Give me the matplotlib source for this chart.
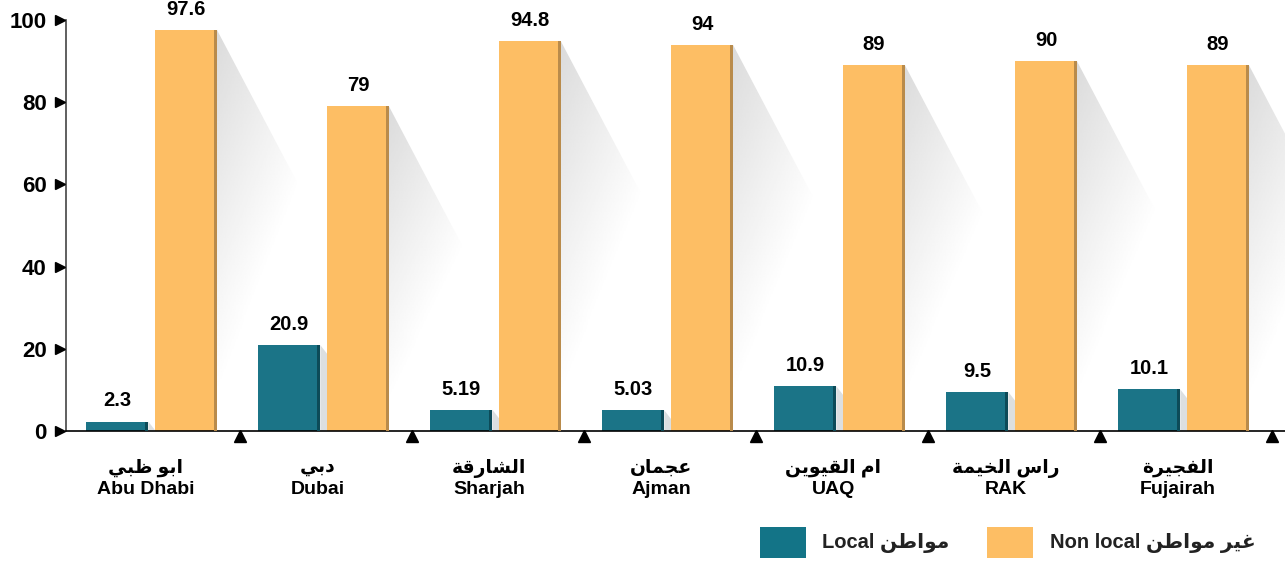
import matplotlib
matplotlib.use('Agg')
import matplotlib.pyplot as plt
import numpy as np
from matplotlib.patches import Polygon, Rectangle

# data
cities_ar = ['ابو ظبي', 'دبي', 'الشارقة', 'عجمان', 'ام القيوين', 'راس الخيمة', 'الفجيرة']
cities_en = ['Abu Dhabi', 'Dubai', 'Sharjah', 'Ajman', 'UAQ', 'RAK', 'Fujairah']
local = [2.3, 20.9, 5.19, 5.03, 10.9, 9.5, 10.1]
non_local = [97.6, 79, 94.8, 94, 89, 90, 89]
local_lbl = ['2.3', '20.9', '5.19', '5.03', '10.9', '9.5', '10.1']
non_local_lbl = ['97.6', '79', '94.8', '94', '89', '90', '89']
legend_ar = ['مواطن', 'غير مواطن']
legend_en = ['Local', 'Non local']

TEAL = '#1b7487'
TEAL_EDGE = '#0d4b58'
ORANGE = '#fdbe64'
ORANGE_EDGE = '#b98b4b'
FONT = ['Liberation Sans', 'DejaVu Sans']

# arabic presentation forms: isolated, final, initial, medial
FORMS = {
    'ا': (0xFE8D, 0xFE8E, None, None),
    'ب': (0xFE8F, 0xFE90, 0xFE91, 0xFE92),
    'ة': (0xFE93, 0xFE94, None, None),
    'ج': (0xFE9D, 0xFE9E, 0xFE9F, 0xFEA0),
    'خ': (0xFEA5, 0xFEA6, 0xFEA7, 0xFEA8),
    'د': (0xFEA9, 0xFEAA, None, None),
    'ر': (0xFEAD, 0xFEAE, None, None),
    'س': (0xFEB1, 0xFEB2, 0xFEB3, 0xFEB4),
    'ش': (0xFEB5, 0xFEB6, 0xFEB7, 0xFEB8),
    'ط': (0xFEC1, 0xFEC2, 0xFEC3, 0xFEC4),
    'ظ': (0xFEC5, 0xFEC6, 0xFEC7, 0xFEC8),
    'ع': (0xFEC9, 0xFECA, 0xFECB, 0xFECC),
    'غ': (0xFECD, 0xFECE, 0xFECF, 0xFED0),
    'ف': (0xFED1, 0xFED2, 0xFED3, 0xFED4),
    'ق': (0xFED5, 0xFED6, 0xFED7, 0xFED8),
    'ل': (0xFEDD, 0xFEDE, 0xFEDF, 0xFEE0),
    'م': (0xFEE1, 0xFEE2, 0xFEE3, 0xFEE4),
    'ن': (0xFEE5, 0xFEE6, 0xFEE7, 0xFEE8),
    'و': (0xFEED, 0xFEEE, None, None),
    'ي': (0xFEF1, 0xFEF2, 0xFEF3, 0xFEF4),
}


def shape(txt):
    out = []
    for i, c in enumerate(txt):
        if c not in FORMS:
            out.append(c)
            continue
        prev = txt[i - 1] if i > 0 else ' '
        nxt = txt[i + 1] if i + 1 < len(txt) else ' '
        join_prev = prev in FORMS and FORMS[prev][2] is not None
        join_next = FORMS[c][2] is not None and nxt in FORMS
        f = FORMS[c]
        if join_prev and join_next:
            code = f[3]
        elif join_prev:
            code = f[1]
        elif join_next:
            code = f[2]
        else:
            code = f[0]
        out.append(chr(code))
    return ''.join(out)[::-1]


fig = plt.figure(figsize=(12.85, 5.62), dpi=100)
W, H = 1285, 562
ax = fig.add_axes([66 / W, 131 / H, 1219 / W, 411 / H])
unit = 172.0
x0 = -2 / unit
ax.set_xlim(x0, x0 + 1219 / unit)
ax.set_ylim(0, 100)

X = np.arange(len(local))
bw = 0.36
xl = X + 0.287
xn = X + 0.686
edge = 3 / unit


def grad_poly(verts, g0, g1, z):
    poly = Polygon(verts, closed=True, facecolor='none', edgecolor='none')
    ax.add_patch(poly)
    xs = [v[0] for v in verts]
    ys = [v[1] for v in verts]
    gx, gy = np.meshgrid(np.linspace(0, 1, 60), np.linspace(0, 1, 120))
    t = np.clip(0.55 * gx + 1.1 * gy, 0, 1)
    img = g0 + (g1 - g0) * t
    im = ax.imshow(img, cmap='gray', vmin=0, vmax=1, origin='upper',
                   extent=[min(xs), max(xs), min(ys), max(ys)],
                   aspect='auto', zorder=z, interpolation='bilinear')
    im.set_clip_path(poly)


# shadows
for i in range(len(X)):
    r = xn[i] + bw / 2
    top = non_local[i]
    grad_poly([(r, top), (r + 80 / unit, top - 37), (r, 0)], 0.86, 1.0, 1)
    r2 = xl[i] + bw / 2
    ax.add_patch(Polygon([(r2, local[i]), (r2 + 7 / unit, local[i] - 2.2),
                          (r2 + 7 / unit, 0), (r2, 0)],
                         closed=True, facecolor='#dcdfe0', edgecolor='none', zorder=1))
ax.set_xlim(x0, x0 + 1219 / unit)
ax.set_ylim(0, 100)

ax.bar(xl, local, width=bw, color=TEAL, zorder=2)
ax.bar(xl + bw / 2 - edge / 2, local, width=edge, color=TEAL_EDGE, zorder=3)
ax.bar(xn, non_local, width=bw, color=ORANGE, zorder=2)
ax.bar(xn + bw / 2 - edge / 2, non_local, width=edge, color=ORANGE_EDGE, zorder=3)

for i in range(len(X)):
    ax.annotate(local_lbl[i], (xl[i], local[i]), xytext=(0, 8), textcoords='offset points',
                ha='center', va='bottom', fontsize=14.5, fontweight='bold', family=FONT)
    ax.annotate(non_local_lbl[i], (xn[i], non_local[i]), xytext=(0, 8), textcoords='offset points',
                ha='center', va='bottom', fontsize=14.5, fontweight='bold', family=FONT)

# axes styling
for s in ['top', 'right']:
    ax.spines[s].set_visible(False)
ax.spines['left'].set_color('#444444')
ax.spines['bottom'].set_color('black')
ax.spines['left'].set_linewidth(1.2)
ax.spines['bottom'].set_linewidth(1.2)
ax.set_xticks([])
ax.set_yticks(np.arange(0, 101, 20))
ax.tick_params(axis='y', length=0, pad=14)
for lab in ax.get_yticklabels():
    lab.set_fontsize(16)
    lab.set_fontweight('bold')
    lab.set_family(FONT)

ytr = ax.get_yaxis_transform()
ax.plot([-6 / 1219] * 6, np.arange(0, 101, 20), linestyle='none', marker='>', markersize=7,
        color='black', transform=ytr, clip_on=False, zorder=5)
xtr = ax.get_xaxis_transform()
ax.plot(X + 1, [-5 / 411] * len(X), linestyle='none', marker='^', markersize=8,
        color='black', transform=xtr, clip_on=False, zorder=5)

for i in range(len(X)):
    ax.text(X[i] + 0.45, -37 / 411, shape(cities_ar[i]), transform=xtr, ha='center', va='center',
            fontsize=13.5, fontweight='bold', family=FONT)
    ax.text(X[i] + 0.45, -59 / 411, cities_en[i], transform=xtr, ha='center', va='center',
            fontsize=14, fontweight='bold', family=FONT)

# legend
fig.patches.append(Rectangle((760 / W, 4 / H), 46 / W, 31 / H, transform=fig.transFigure,
                             facecolor='#137487', edgecolor='none'))
fig.patches.append(Rectangle((987 / W, 4 / H), 46 / W, 31 / H, transform=fig.transFigure,
                             facecolor=ORANGE, edgecolor='none'))
fig.text(822 / W, 19 / H, legend_en[0] + ' ' + shape(legend_ar[0]), ha='left', va='center',
         fontsize=14.5, fontweight='bold', family=FONT, color='#222222')
fig.text(1050 / W, 19 / H, legend_en[1] + ' ' + shape(legend_ar[1]), ha='left', va='center',
         fontsize=14.5, fontweight='bold', family=FONT, color='#222222')

fig.savefig('out.png', dpi=100)
